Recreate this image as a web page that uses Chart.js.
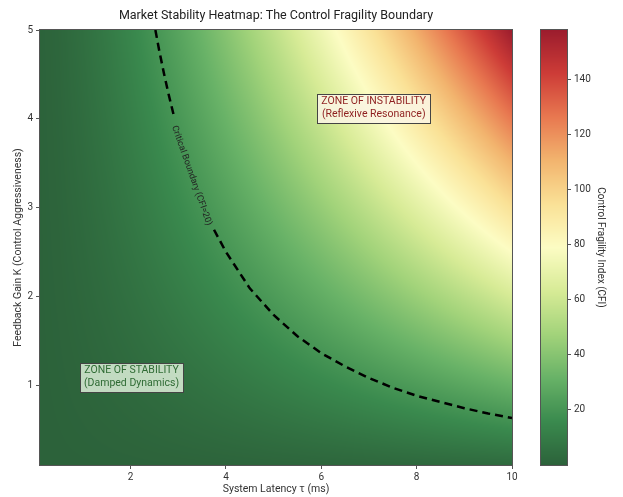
<!DOCTYPE html>
<html><head><meta charset="utf-8">
<script src="https://cdn.jsdelivr.net/npm/chart.js@4.4.1/dist/chart.umd.min.js"></script>
<style>
html,body{margin:0;padding:0;background:#fff;overflow:hidden}
#wrap{position:relative;width:623px;height:497px;background:#fff}
#main{position:absolute;left:0;top:0}
#cb{position:absolute;left:530px;top:0}
</style></head>
<body><div id="wrap"><canvas id="main" width="623" height="497"></canvas><canvas id="cb" width="93" height="497"></canvas></div>
<script>
// ---- data ----
const TITLE = 'Market Stability Heatmap: The Control Fragility Boundary';
const xTicks = [2, 4, 6, 8, 10];
const yTicks = [1, 2, 3, 4, 5];
const cbTicks = [20, 40, 60, 80, 100, 120, 140];
const tauGrid = [0.1,0.5,1,1.5,2,2.5,3,3.5,4,4.5,5,5.5,6,6.5,7,7.5,8,8.5,9,9.5,10];
const kGrid = [0.1,0.5,1.0,1.5,2.0,2.5,3.0,3.5,4.0,4.5,5.0];
const cfiGrid = [
 [0.003,0.04,0.1,0.18,0.28,0.40,0.52,0.65,0.80,0.95,1.12,1.29,1.47,1.66,1.85,2.05,2.26,2.48,2.70,2.93,3.16],
 [0.02,0.18,0.5,0.92,1.41,1.98,2.60,3.27,4.0,4.77,5.59,6.45,7.35,8.29,9.26,10.27,11.31,12.39,13.5,14.64,15.81],
 [0.03,0.35,1,1.84,2.83,3.95,5.20,6.55,8,9.55,11.18,12.90,14.70,16.57,18.52,20.54,22.63,24.78,27,29.28,31.62],
 [0.05,0.53,1.5,2.76,4.24,5.93,7.79,9.82,12,14.32,16.77,19.35,22.05,24.86,27.78,30.81,33.94,37.17,40.5,43.92,47.43],
 [0.06,0.71,2,3.67,5.66,7.91,10.39,13.10,16,19.09,22.36,25.80,29.39,33.14,37.04,41.08,45.25,49.57,54,58.56,63.25],
 [0.08,0.88,2.5,4.59,7.07,9.88,12.99,16.37,20,23.86,27.95,32.25,36.74,41.43,46.30,51.35,56.57,61.96,67.5,73.20,79.06],
 [0.09,1.06,3,5.51,8.49,11.86,15.59,19.64,24,28.64,33.54,38.70,44.09,49.72,55.56,61.62,67.88,74.35,81,87.84,94.87],
 [0.11,1.24,3.5,6.43,9.90,13.84,18.19,22.92,28,33.41,39.13,45.15,51.44,58.00,64.82,71.89,79.20,86.74,94.5,102.48,110.68],
 [0.13,1.41,4,7.35,11.31,15.81,20.78,26.19,32,38.18,44.72,51.60,58.79,66.29,74.08,82.16,90.51,99.13,108,117.12,126.49],
 [0.14,1.59,4.5,8.27,12.73,17.79,23.38,29.47,36,42.96,50.31,58.05,66.14,74.57,83.34,92.43,101.82,111.52,121.5,131.76,142.30],
 [0.16,1.77,5,9.19,14.14,19.76,25.98,32.74,40,47.73,55.90,64.50,73.48,82.86,92.60,102.70,113.14,123.91,135,146.40,158.11]
];
const cfiMin = 0, cfiMax = 158.11;
// critical boundary (CFI = 20), split where the label sits
const boundTauA = [2.52, 2.6, 2.7, 2.8, 2.9];
const boundKA   = [5.00, 4.77, 4.51, 4.27, 4.05];
const boundTauB = [3.75, 4, 4.5, 5, 5.5, 6, 6.5, 7, 7.5, 8, 8.5, 9, 9.5, 10];
const boundKB   = [2.75, 2.50, 2.09, 1.79, 1.55, 1.36, 1.21, 1.08, 0.97, 0.88, 0.81, 0.74, 0.68, 0.63];
const boundLabel = {tau: 3.28, k: 3.36, text: 'Critical Boundary (CFI=20)'};
const zones = [
  {tau: 7.1, k: 4.12, lines: ['ZONE OF INSTABILITY', '(Reflexive Resonance)'], color: '#8e1f1f', bg: 'rgba(250,245,228,0.88)'},
  {tau: 2.02, k: 1.09, lines: ['ZONE OF STABILITY', '(Damped Dynamics)'], color: '#2f6b34', bg: 'rgba(215,235,212,0.88)'}
];

// ---- colour map ----
const cmapStops = [
  [0.00, 44, 98, 58], [0.10, 58, 138, 78], [0.20, 104, 178, 103], [0.30, 162, 211, 122],
  [0.40, 215, 235, 150], [0.50, 252, 252, 195], [0.60, 250, 225, 150], [0.70, 242, 180, 110],
  [0.80, 232, 120, 80], [0.90, 205, 60, 55], [1.00, 155, 28, 45]
];
function cmap(t) {
  t = Math.max(0, Math.min(1, t));
  for (let i = 0; i < cmapStops.length - 1; i++) {
    const a = cmapStops[i], b = cmapStops[i + 1];
    if (t <= b[0]) {
      const f = (t - a[0]) / (b[0] - a[0]);
      return [a[1] + (b[1] - a[1]) * f, a[2] + (b[2] - a[2]) * f, a[3] + (b[3] - a[3]) * f];
    }
  }
  const l = cmapStops[cmapStops.length - 1];
  return [l[1], l[2], l[3]];
}
function locate(arr, v) {
  if (v <= arr[0]) return [0, 0];
  const n = arr.length - 1;
  if (v >= arr[n]) return [n - 1, 1];
  for (let i = 0; i < n; i++) if (v <= arr[i + 1]) return [i, (v - arr[i]) / (arr[i + 1] - arr[i])];
  return [n - 1, 1];
}
function cfiAt(tau, k) {
  const [i, fx] = locate(tauGrid, tau);
  const [j, fy] = locate(kGrid, k);
  const v00 = cfiGrid[j][i], v01 = cfiGrid[j][i + 1], v10 = cfiGrid[j + 1][i], v11 = cfiGrid[j + 1][i + 1];
  return (v00 * (1 - fx) + v01 * fx) * (1 - fy) + (v10 * (1 - fx) + v11 * fx) * fy;
}

const FONT = 'Roboto, "Noto Sans", sans-serif';

const heatPlugin = {
  id: 'heat',
  beforeDatasetsDraw(chart) {
    const {ctx, chartArea: a, scales: {x, y}} = chart;
    const L = Math.round(a.left), T = Math.round(a.top);
    const W = Math.round(a.right) - L, H = Math.round(a.bottom) - T;
    const img = ctx.createImageData(W, H);
    for (let py = 0; py < H; py++) {
      const k = y.getValueForPixel(T + py + 0.5);
      for (let px = 0; px < W; px++) {
        const tau = x.getValueForPixel(L + px + 0.5);
        const c = cmap((cfiAt(tau, k) - cfiMin) / (cfiMax - cfiMin));
        const o = (py * W + px) * 4;
        img.data[o] = c[0]; img.data[o + 1] = c[1]; img.data[o + 2] = c[2]; img.data[o + 3] = 255;
      }
    }
    ctx.putImageData(img, L, T);
  },
  afterDatasetsDraw(chart) {
    const {ctx, chartArea: a, scales: {x, y}} = chart;
    // boundary label
    ctx.save();
    const lx = x.getPixelForValue(boundLabel.tau), ly = y.getPixelForValue(boundLabel.k);
    ctx.translate(lx, ly);
    ctx.rotate(70.5 * Math.PI / 180);
    ctx.font = '9px ' + FONT;
    ctx.fillStyle = '#222';
    ctx.textAlign = 'center'; ctx.textBaseline = 'middle';
    ctx.fillText(boundLabel.text, 0, 0);
    ctx.restore();
    // zone boxes
    zones.forEach(z => {
      ctx.save();
      ctx.font = '10.5px ' + FONT;
      const cx = x.getPixelForValue(z.tau), cy = y.getPixelForValue(z.k);
      const lh = 12.5;
      const w = Math.max(...z.lines.map(s => ctx.measureText(s).width)) + 8;
      const h = lh * z.lines.length + 4;
      ctx.fillStyle = z.bg;
      ctx.fillRect(Math.round(cx - w / 2) + 0.5, Math.round(cy - h / 2) + 0.5, Math.round(w), Math.round(h));
      ctx.strokeStyle = '#444'; ctx.lineWidth = 1;
      ctx.strokeRect(Math.round(cx - w / 2) + 0.5, Math.round(cy - h / 2) + 0.5, Math.round(w), Math.round(h));
      ctx.fillStyle = z.color;
      ctx.textAlign = 'center'; ctx.textBaseline = 'middle';
      z.lines.forEach((s, i) => ctx.fillText(s, cx, cy - h / 2 + 2 + lh * (i + 0.5)));
      ctx.restore();
    });
    // frame
    ctx.save();
    ctx.strokeStyle = '#555'; ctx.lineWidth = 1;
    ctx.strokeRect(Math.round(a.left) - 0.5, Math.round(a.top) - 0.5, Math.round(a.right - a.left) + 1, Math.round(a.bottom - a.top) + 1);
    ctx.restore();
  }
};

const axisCommon = {
  type: 'linear',
  grid: {drawOnChartArea: false, tickLength: 4, color: '#555'},
  border: {color: '#555'},
  ticks: {color: '#333', font: {family: FONT, size: 10}}
};

new Chart(document.getElementById('main'), {
  type: 'scatter',
  data: {datasets: [
    {data: boundTauA.map((t, i) => ({x: t, y: boundKA[i]})), showLine: true, borderColor: '#000', borderWidth: 2.5, borderDash: [8, 5], pointRadius: 0, fill: false},
    {data: boundTauB.map((t, i) => ({x: t, y: boundKB[i]})), showLine: true, borderColor: '#000', borderWidth: 2.5, borderDash: [8, 5], pointRadius: 0, fill: false}
  ]},
  options: {
    responsive: false, animation: false, devicePixelRatio: 1,
    layout: {padding: {left: 0, right: 111, top: 0, bottom: 0}},
    plugins: {
      legend: {display: false}, tooltip: {enabled: false},
      title: {display: true, text: TITLE, fullSize: false, color: '#222', font: {family: FONT, size: 12.5, weight: 'normal'}, padding: {top: 8, bottom: 7}}
    },
    scales: {
      x: Object.assign({}, axisCommon, {
        min: 0.1, max: 10,
        afterBuildTicks: s => { s.ticks = xTicks.map(v => ({value: v})); },
        afterFit: s => { s.height = 32; },
        ticks: {color: '#333', font: {family: FONT, size: 10}, padding: 2},
        title: {display: true, text: 'System Latency τ (ms)', color: '#333', font: {family: FONT, size: 10.5}, padding: {top: 0, bottom: 1}}
      }),
      y: Object.assign({}, axisCommon, {
        min: 0.1, max: 5,
        afterBuildTicks: s => { s.ticks = yTicks.map(v => ({value: v})); },
        afterFit: s => { s.width = 40; },
        ticks: {color: '#333', font: {family: FONT, size: 10}, padding: 3},
        title: {display: true, text: 'Feedback Gain K (Control Aggressiveness)', color: '#333', font: {family: FONT, size: 10.5}, padding: {top: 11.7, bottom: 0}}
      })
    }
  },
  plugins: [heatPlugin]
});

const cbPlugin = {
  id: 'cbar',
  beforeDatasetsDraw(chart) {
    const {ctx, chartArea: a, scales: {y}} = chart;
    const L = Math.round(a.left), T = Math.round(a.top);
    const W = Math.round(a.right) - L, H = Math.round(a.bottom) - T;
    const img = ctx.createImageData(W, H);
    for (let py = 0; py < H; py++) {
      const v = y.getValueForPixel(T + py + 0.5);
      const c = cmap((v - cfiMin) / (cfiMax - cfiMin));
      for (let px = 0; px < W; px++) {
        const o = (py * W + px) * 4;
        img.data[o] = c[0]; img.data[o + 1] = c[1]; img.data[o + 2] = c[2]; img.data[o + 3] = 255;
      }
    }
    ctx.putImageData(img, L, T);
    ctx.save();
    ctx.strokeStyle = '#555'; ctx.lineWidth = 1;
    ctx.strokeRect(L - 0.5, T - 0.5, W + 1, H + 1);
    ctx.restore();
  }
};

new Chart(document.getElementById('cb'), {
  type: 'scatter',
  data: {datasets: [{data: []}]},
  options: {
    responsive: false, animation: false, devicePixelRatio: 1,
    layout: {padding: {left: 11, right: 0, top: 30, bottom: 32}},
    plugins: {legend: {display: false}, tooltip: {enabled: false}},
    scales: {
      x: {display: false, min: 0, max: 1},
      y: {
        type: 'linear', position: 'right', min: cfiMin, max: cfiMax,
        afterBuildTicks: s => { s.ticks = cbTicks.map(v => ({value: v})); },
        afterFit: s => { s.width = 56; },
        grid: {drawOnChartArea: false, tickLength: 4, color: '#555'},
        border: {color: '#555'},
        ticks: {color: '#333', font: {family: FONT, size: 10}, padding: 3},
        title: {display: true, text: 'Control Fragility Index (CFI)', color: '#333', font: {family: FONT, size: 10}, padding: {top: 17, bottom: 0}}
      }
    }
  },
  plugins: [cbPlugin]
});
</script>
</body></html>
